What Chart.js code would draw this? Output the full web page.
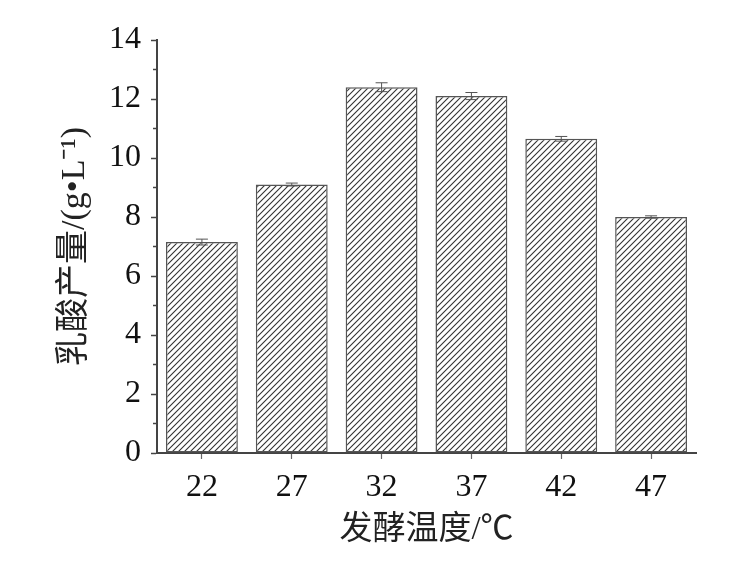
<!DOCTYPE html>
<html>
<head>
<meta charset="utf-8">
<title>发酵温度对乳酸产量的影响</title>
<script src="https://cdn.jsdelivr.net/npm/chart.js@4"></script>
<style>
  html, body { margin: 0; padding: 0; background: #fff; }
  #wrap { width: 733px; height: 574px; position: relative; }
</style>
</head>
<body>
<div id="wrap"><canvas id="barChart"></canvas></div>
<script>
// Data
const temperatures = ['22', '27', '32', '37', '42', '47'];
const lacticAcid   = [7.15, 9.1, 12.4, 12.1, 10.65, 8.0];
const errors       = [0.1, 0.05, 0.15, 0.12, 0.08, 0.04];
const yMin = 0, yMax = 14, yStep = 2;

const SERIF = '"Liberation Serif", "Times New Roman", serif';
const CJK = '"Liberation Serif", "Noto Sans CJK SC", serif';
const AXIS = '#444';

// diagonal hatch pattern ("/")
function hatch() {
  const s = 6;
  const c = document.createElement('canvas');
  c.width = s; c.height = s;
  const g = c.getContext('2d');
  g.fillStyle = '#fff';
  g.fillRect(0, 0, s, s);
  g.strokeStyle = '#333';
  g.lineWidth = 1.1;
  g.beginPath();
  g.moveTo(0, s); g.lineTo(s, 0);
  g.moveTo(-1, 1); g.lineTo(1, -1);
  g.moveTo(s - 1, s + 1); g.lineTo(s + 1, s - 1);
  g.stroke();
  return g.createPattern(c, 'repeat');
}

// error bars + minor y ticks
const extras = {
  id: 'extras',
  afterDatasetsDraw(chart) {
    const ctx = chart.ctx;
    const x = chart.scales.x, y = chart.scales.y;
    ctx.save();
    ctx.strokeStyle = '#555';
    ctx.lineWidth = 1;
    lacticAcid.forEach((v, i) => {
      const px = x.getPixelForValue(i);
      const hi = y.getPixelForValue(v + errors[i]);
      const lo = y.getPixelForValue(v - errors[i]);
      ctx.beginPath();
      ctx.moveTo(px, hi); ctx.lineTo(px, lo);
      ctx.moveTo(px - 6, hi); ctx.lineTo(px + 6, hi);
      ctx.moveTo(px - 6, lo); ctx.lineTo(px + 6, lo);
      ctx.stroke();
    });
    // minor ticks on y
    ctx.strokeStyle = AXIS;
    ctx.lineWidth = 1.5;
    for (let v = yMin + yStep / 2; v < yMax; v += yStep) {
      const py = y.getPixelForValue(v);
      ctx.beginPath();
      ctx.moveTo(y.right, py); ctx.lineTo(y.right - 4, py);
      ctx.stroke();
    }
    ctx.restore();
  }
};

new Chart(document.getElementById('barChart'), {
  type: 'bar',
  data: {
    labels: temperatures,
    datasets: [{
      data: lacticAcid,
      backgroundColor: hatch(),
      borderColor: '#555',
      borderWidth: 1.5,
      borderSkipped: false,
      barPercentage: 0.8,
      categoryPercentage: 1.0
    }]
  },
  options: {
    responsive: true, maintainAspectRatio: false,
    animation: false,
    layout: { padding: { top: 40, right: 37, left: 0, bottom: 0 } },
    plugins: { legend: { display: false }, tooltip: { enabled: false } },
    scales: {
      x: {
        offset: true,
        afterFit: s => { s.height = 121; },
        border: { color: AXIS, width: 2 },
        grid: { offset: false, drawOnChartArea: false, drawTicks: true, tickLength: 6, color: '#666', tickWidth: 1.2 },
        ticks: { color: '#111', padding: 9, font: { family: SERIF, size: 32 } },
        title: {
          display: true, text: '发酵温度/℃', color: '#222',
          font: { family: CJK, size: 33 }, padding: { top: 0, bottom: 24 }
        }
      },
      y: {
        min: yMin, max: yMax,
        afterFit: s => { s.width = 157; },
        border: { color: AXIS, width: 2 },
        grid: { drawOnChartArea: false, drawTicks: true, tickLength: 6, color: AXIS, tickWidth: 1.5 },
        ticks: { stepSize: yStep, color: '#111', padding: 10, font: { family: SERIF, size: 32 } },
        title: {
          display: true, text: '乳酸产量/(g•L⁻¹)', color: '#222',
          font: { family: CJK, size: 34 }, padding: { top: 55, bottom: 0 }
        }
      }
    }
  },
  plugins: [extras]
});
</script>
</body>
</html>
